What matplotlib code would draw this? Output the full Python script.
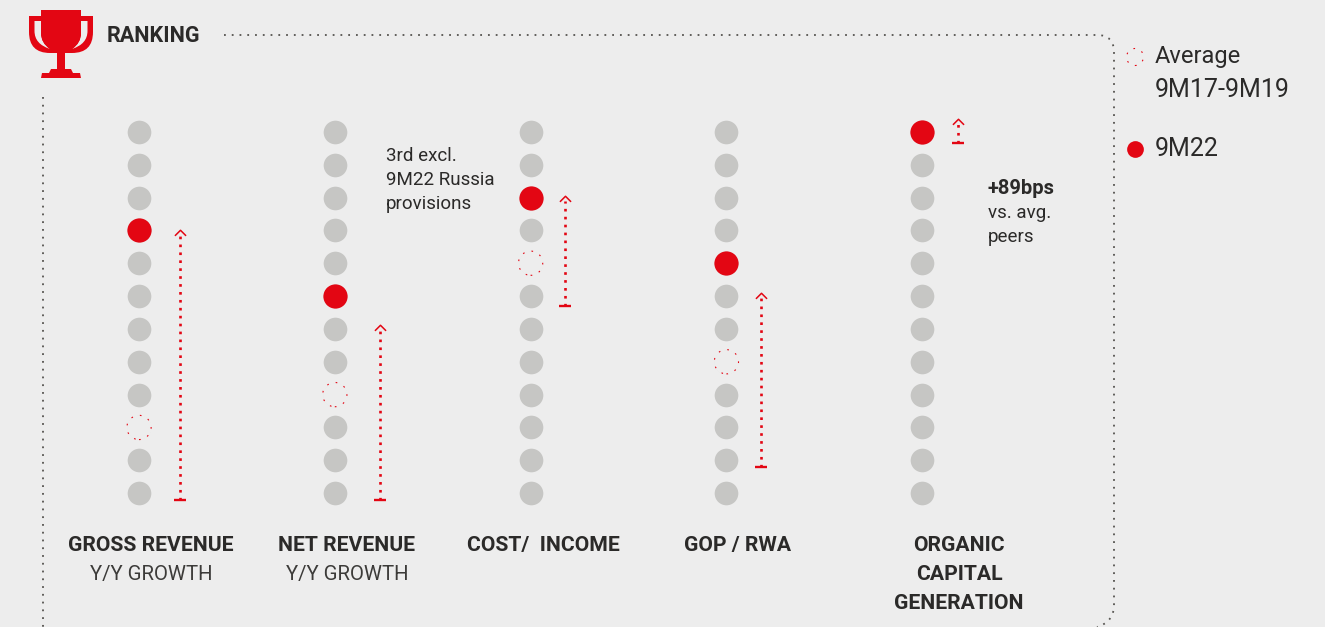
import matplotlib
matplotlib.use("Agg")
import matplotlib.pyplot as plt
from matplotlib.path import Path
from matplotlib.patches import PathPatch

plt.rcParams['font.family'] = ['Roboto', 'DejaVu Sans']

# Ranking data: position 1 is the best of 12 peers
metrics = ["GROSS REVENUE", "NET REVENUE", "COST/  INCOME", "GOP / RWA", "ORGANIC\nCAPITAL\nGENERATION"]
sublabels = ["Y/Y GROWTH", "Y/Y GROWTH", "", "", ""]
positions = list(range(1, 13))
rank_9m22 = [4, 6, 3, 5, 1]
rank_avg = [10, 9, 5, 8, None]
arrow_from = [12.2, 12.2, 6.3, 11.2, 1.33]
arrow_to = [4.05, 6.95, 3.0, 5.97, 0.66]

BG = "#EDEDED"
RED = "#E30613"
GREY = "#C6C6C4"
DARK = "#2B2A29"
DOTS = "#55534F"

W, H = 1325, 627
fig = plt.figure(figsize=(W / 100, H / 100), dpi=100, facecolor=BG)

# rank axes: x is the column number, y the ranking position
ax = fig.add_axes([0, 0, 1, 1])
ax.set_xlim(-139 / 195.8, (W - 139) / 195.8)
ax.set_ylim(1 + (H - 131.8) / 32.85, 1 - 131.8 / 32.85)
ax.axis("off")

# overlay in pixel units for the frame, trophy and captions
px = fig.add_axes([0, 0, 1, 1])
px.set_xlim(0, W)
px.set_ylim(H, 0)
px.axis("off")
px.patch.set_alpha(0)

DOT_SIZE = 290
arrow_offset = [0.21, 0.23, 0.175, 0.175, 0.185]

for i in range(len(metrics)):
    ax.scatter([i] * len(positions), positions, s=DOT_SIZE, color=GREY, linewidths=0, zorder=2)
    ax.scatter([i], [rank_9m22[i]], s=DOT_SIZE * 1.05, color=RED, linewidths=0, zorder=3)
    if rank_avg[i] is not None:
        # cover the grey dot, then draw the dashed outline of the average
        ax.scatter([i], [rank_avg[i]], s=DOT_SIZE * 1.1, color=BG, linewidths=0, zorder=3)
        ax.scatter([i], [rank_avg[i]], s=DOT_SIZE * 1.05, facecolors="none", edgecolors=RED,
                   linewidths=0.8, linestyles=(0, (1.5, 6.5)), zorder=4)

    x = i + arrow_offset[i]
    ax.plot([x, x], [arrow_from[i], arrow_to[i] + 0.1], color=RED, lw=1.9, ls=(0, (1, 2)), zorder=3)
    ax.plot([x], [arrow_from[i]], marker="_", ms=8, mew=1.7, color=RED, zorder=3)
    chevron = Path([(-1, -0.6), (0, 0.4), (1, -0.6)], [Path.MOVETO, Path.LINETO, Path.LINETO])
    ax.plot([x], [arrow_to[i]], marker=chevron, ms=8, mew=1.1, mfc="none", color=RED, zorder=3)

# frame around the columns
frame = Path(
    [(224, 35), (1097, 35), (1114, 35), (1114, 52), (1114, 605), (1114, 622), (1097, 627)],
    [Path.MOVETO, Path.LINETO, Path.CURVE3, Path.CURVE3, Path.LINETO, Path.CURVE3, Path.CURVE3],
)
px.add_patch(PathPatch(frame, fc="none", ec=DOTS, lw=1.3, ls=(0, (1, 3.3))))
px.plot([43, 43], [97, H], color=DOTS, lw=1.3, ls=(0, (1, 3.3)))

# trophy
handles = Path(
    [(29, 16), (93, 16), (93, 32), (93, 53), (72, 53), (50, 53), (29, 53), (29, 32), (29, 16)],
    [Path.MOVETO, Path.LINETO, Path.LINETO, Path.CURVE3, Path.CURVE3,
     Path.LINETO, Path.CURVE3, Path.CURVE3, Path.CLOSEPOLY],
)
px.add_patch(PathPatch(handles, fc=RED, ec="none", zorder=2))
for sign in (-1, 1):
    cx = lambda d: 61 + sign * d
    gap = Path(
        [(cx(26.5), 21), (cx(20), 21), (cx(20), 33), (cx(20), 43), (cx(11), 49), (cx(26.5), 44),
         (cx(26.5), 31), (cx(26.5), 21)],
        [Path.MOVETO, Path.LINETO, Path.LINETO, Path.CURVE3, Path.CURVE3, Path.CURVE3, Path.CURVE3,
         Path.CLOSEPOLY],
    )
    px.add_patch(PathPatch(gap, fc=BG, ec="none", zorder=3))
cup = Path(
    [(41, 10), (81, 10), (81, 33), (81, 43), (72, 49), (50, 49), (41, 43), (41, 33), (41, 10)],
    [Path.MOVETO, Path.LINETO, Path.LINETO, Path.CURVE3, Path.CURVE3, Path.LINETO,
     Path.CURVE3, Path.CURVE3, Path.CLOSEPOLY],
)
px.add_patch(PathPatch(cup, fc=RED, ec="none", zorder=4))
base = Path(
    [(57, 50), (65, 50), (65, 69), (71, 69), (73, 73), (80, 73), (81, 78), (41, 78), (42, 73),
     (49, 73), (51, 69), (57, 69), (57, 50)],
    [Path.MOVETO] + [Path.LINETO] * 11 + [Path.CLOSEPOLY],
)
px.add_patch(PathPatch(base, fc=RED, ec="none", zorder=4))

px.text(107, 42.5, "RANKING", fontsize=15.6, fontweight="bold", color=DARK, va="baseline", ha="left")

# column captions
caption_x = [151, 347, 543, 738, 959]
for cap_x, name, sub in zip(caption_x, metrics, sublabels):
    for n, line in enumerate(name.split("\n")):
        px.text(cap_x, 551 + 29 * n, line, fontsize=15.2, fontweight="bold", color=DARK, ha="center",
                va="baseline")
    if sub:
        px.text(cap_x, 580, sub, fontsize=14.7, color="#3C3B39", ha="center", va="baseline")

# notes beside the columns
for n, line in enumerate(["3rd excl.", "9M22 Russia", "provisions"]):
    px.text(386, 161 + 24 * n, line, fontsize=13.5, color=DARK, va="baseline", ha="left")
px.text(988, 194, "+89bps", fontsize=14.5, fontweight="bold", color=DARK, va="baseline", ha="left")
for n, line in enumerate(["vs. avg.", "peers"]):
    px.text(988, 218 + 24 * n, line, fontsize=13.5, color=DARK, va="baseline", ha="left")

# legend
px.scatter([1135], [57], s=150, facecolors="none", edgecolors=RED, linewidths=0.8,
           linestyles=(0, (1.5, 6.5)))
px.scatter([1135], [149], s=145, color=RED, linewidths=0)
px.text(1155, 63, "Average", fontsize=17, color=DARK, va="baseline", ha="left")
px.text(1155, 97, "9M17-9M19", fontsize=18, color=DARK, va="baseline", ha="left")
px.text(1155, 156, "9M22", fontsize=18, color=DARK, va="baseline", ha="left")

fig.savefig("out.png", dpi=100, facecolor=BG)
